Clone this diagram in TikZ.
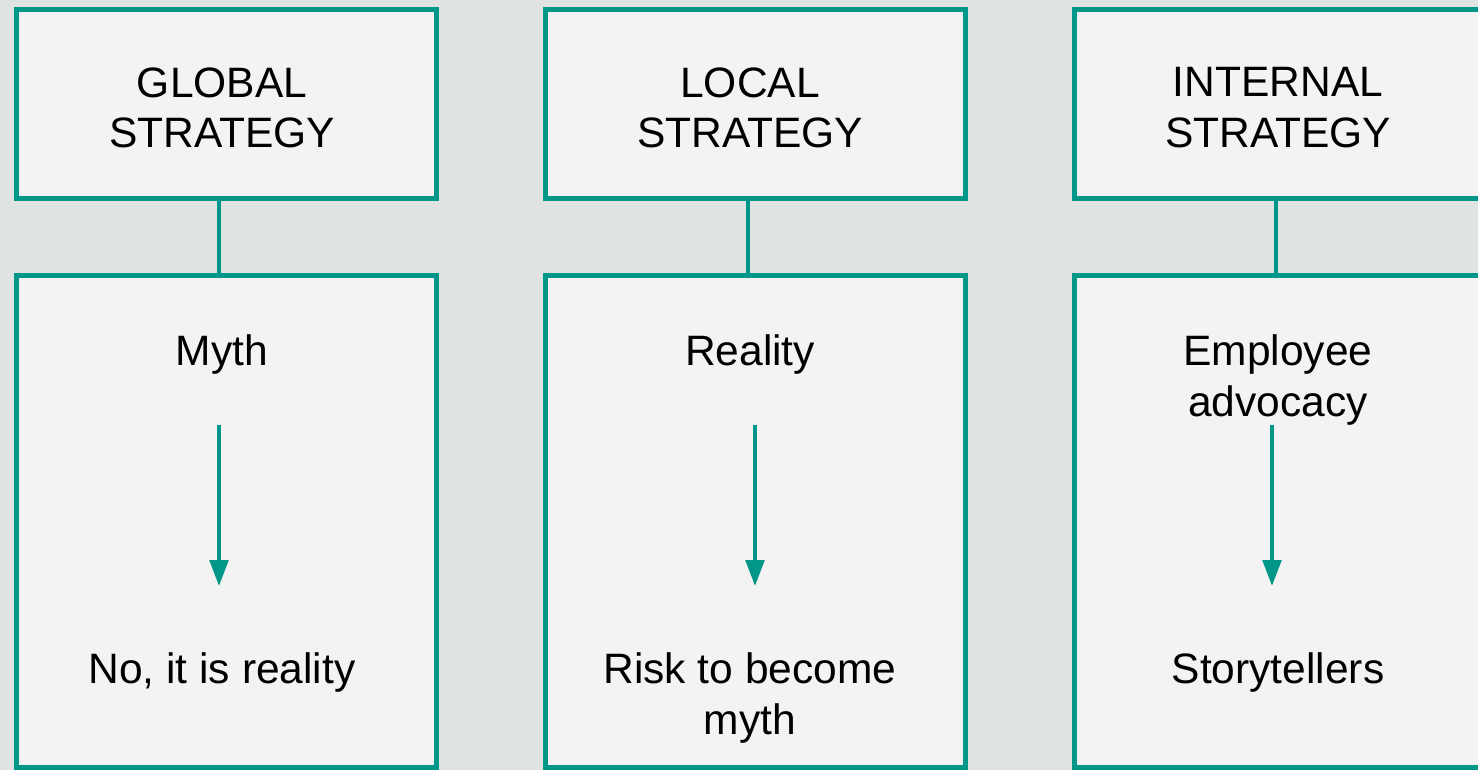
\documentclass[tikz,border=0pt]{standalone}
\usepackage{fontspec}
\setmainfont{Liberation Sans}
\usetikzlibrary{arrows.meta}

\definecolor{tealline}{RGB}{0,150,136}
\definecolor{boxfill}{RGB}{243,243,243}
\definecolor{backdrop}{RGB}{223,227,226}

\begin{document}
\begin{tikzpicture}[x=0.02cm,y=-0.02cm]
\clip (0,0) rectangle (1478,770);
\fill [backdrop] (0,0) rectangle (1478,770);

\begin{scope}[every node/.style={rectangle,draw=tealline,line width=0.1cm,fill=boxfill}]
    \node (gtop) at (226.5, 104) [minimum width=8.42cm,minimum height=3.8cm] {};
    \node (ltop) at (755.5, 104) [minimum width=8.42cm,minimum height=3.8cm] {};
    \node (itop) at (1284.5, 104) [minimum width=8.42cm,minimum height=3.8cm] {};

    \node (gbot) at (226.5, 521.5) [minimum width=8.42cm,minimum height=9.86cm] {};
    \node (lbot) at (755.5, 521.5) [minimum width=8.42cm,minimum height=9.86cm] {};
    \node (ibot) at (1284.5, 521.5) [minimum width=8.42cm,minimum height=9.86cm] {};
\end{scope}

\begin{scope}[every node/.style={anchor=north,inner sep=0pt,align=center,
              font=\fontsize{24.2}{29}\selectfont}]
    \node (glob) at (222, 67) {GLOBAL\\STRATEGY};
    \node (loc) at (750, 67) {LOCAL\\STRATEGY};
    \node (intl) at (1278, 67) {INTERNAL\\STRATEGY};

    \node (myth) at (222, 334) {Myth};
    \node (real) at (750, 334) {Reality};
    \node (advo) at (1278, 334) {Employee\\advocacy};

    \node (noreal) at (222, 652) {No, it is reality};
    \node (risk) at (750, 652) {Risk to become\\myth};
    \node (story) at (1278, 652) {Storytellers};
\end{scope}

\coordinate (g1) at (219, 425);
\coordinate (g2) at (219, 586);
\coordinate (l1) at (755, 425);
\coordinate (l2) at (755, 586);
\coordinate (i1) at (1272, 425);
\coordinate (i2) at (1272, 586);

\begin{scope}[every edge/.style={draw=tealline,line width=0.07cm}]
    \path ([xshift=-0.15cm]gtop.south) edge ([xshift=-0.15cm]gtop.south |- gbot.north);
    \path ([xshift=-0.15cm]ltop.south) edge ([xshift=-0.15cm]ltop.south |- lbot.north);
    \path ([xshift=-0.17cm]itop.south) edge ([xshift=-0.17cm]itop.south |- ibot.north);
\end{scope}

\begin{scope}[>={Triangle[width=0.37cm,length=0.52cm]},
              every edge/.style={draw=tealline,fill=tealline,line width=0.08cm}]
    \path [->] (g1) edge (g2);
    \path [->] (l1) edge (l2);
    \path [->] (i1) edge (i2);
\end{scope}
\end{tikzpicture}
\end{document}
